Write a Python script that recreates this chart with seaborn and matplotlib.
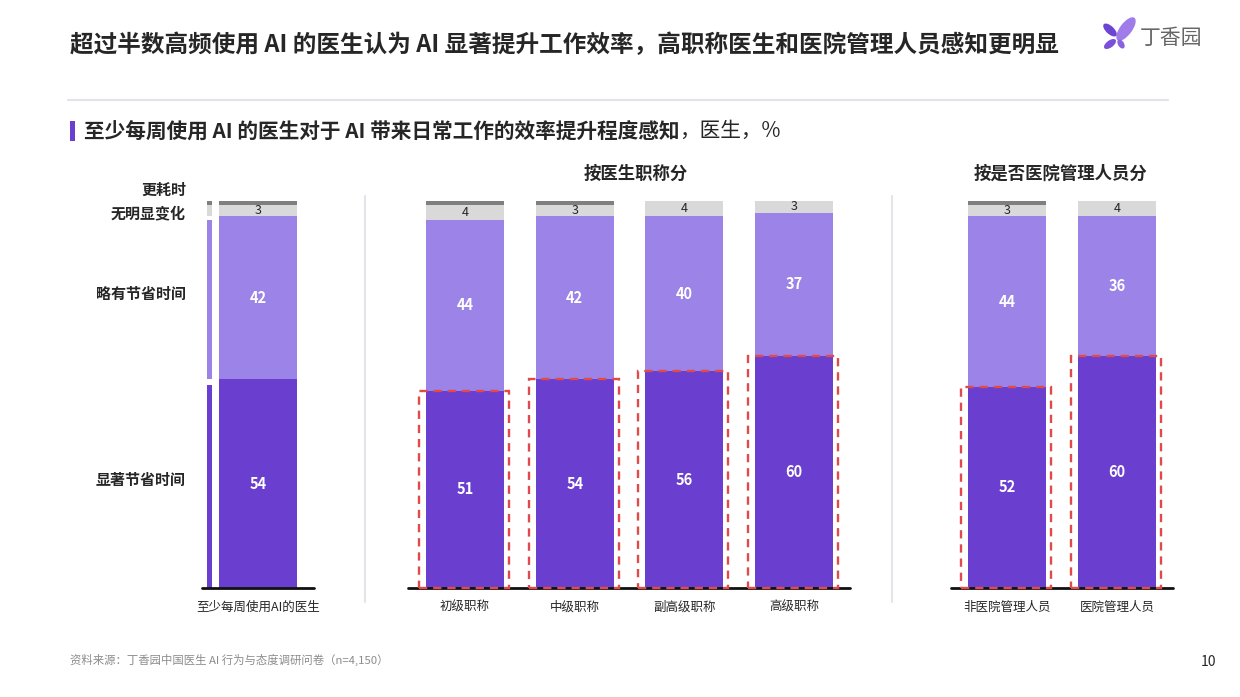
import matplotlib
matplotlib.use('Agg')
import matplotlib.pyplot as plt
import seaborn as sns
import numpy as np
from matplotlib.patches import Rectangle, Ellipse
from matplotlib.lines import Line2D

sns.set_style('white')
plt.rcParams['font.family'] = ['Noto Sans CJK SC', 'DejaVu Sans']

# ---------------- data ----------------
overall_cats = ['至少每周使用AI的医生']
overall_sig = [54]
overall_some = [42]
overall_none = [3]
overall_more = [1]

title_cats = ['初级职称', '中级职称', '副高级职称', '高级职称']
title_sig = [51, 54, 56, 60]
title_some = [44, 42, 40, 37]
title_none = [4, 3, 4, 3]
title_more = [1, 1, 0, 0]

mgmt_cats = ['非医院管理人员', '医院管理人员']
mgmt_sig = [52, 60]
mgmt_some = [44, 36]
mgmt_none = [3, 4]
mgmt_more = [1, 0]

seg_names = ['显著节省时间', '略有节省时间', '无明显变化', '更耗时']
group_titles = ['按医生职称分', '按是否医院管理人员分']

title = '超过半数高频使用 AI 的医生认为 AI 显著提升工作效率，高职称医生和医院管理人员感知更明显'
subtitle_bold = '至少每周使用 AI 的医生对于 AI 带来日常工作的效率提升程度感知'
subtitle_reg = '，医生，%'
source = '资料来源：丁香园中国医生 AI 行为与态度调研问卷（n=4,150）'
page_no = '10'

# ---------------- style ----------------
colors = ['#6A3FCF', '#9B83E8', '#D9D9D9', '#7F7F7F']
red = '#E04A4A'
txt = '#262626'
W, H = 1240, 697
BAR_W = 0.71

fig = plt.figure(figsize=(W / 100, H / 100), dpi=100)
bg = fig.add_axes([0, 0, 1, 1])
bg.set_xlim(0, W)
bg.set_ylim(H, 0)
bg.axis('off')


def px_axes(x0, x1, ytop=201, ybot=588):
    return fig.add_axes([x0 / W, (H - ybot) / H, (x1 - x0) / W, (ybot - ytop) / H])


def draw_panel(ax, cats, sig, some, none, more, xlim, boxes):
    layers = np.array([sig, some, none, more], dtype=float)
    cum = np.cumsum(layers, axis=0)
    for k in reversed(range(4)):
        sns.barplot(x=cats, y=cum[k], color=colors[k], width=BAR_W, saturation=1,
                    errorbar=None, linewidth=0, ax=ax, zorder=2)
    for i in range(len(cats)):
        ax.text(i, sig[i] / 2, f'{sig[i]}', ha='center', va='center', color='white',
                fontsize=10.5, fontweight='bold', zorder=5)
        ax.text(i, cum[0][i] + some[i] / 2, f'{some[i]}', ha='center', va='center',
                color='white', fontsize=10.5, fontweight='bold', zorder=5)
        ax.text(i, cum[1][i] + none[i] / 2, f'{none[i]}', ha='center', va='center',
                color=txt, fontsize=9, zorder=5)
        if boxes:
            ax.add_patch(Rectangle((i - BAR_W / 2 - 0.065, 0), BAR_W + 0.11, sig[i],
                                   fill=False, edgecolor=red, lw=1.7,
                                   ls=(0, (3.5, 2.5)), zorder=6, clip_on=False))
    ax.set_xlim(*xlim)
    ax.set_ylim(0, 100)
    ax.set_yticks([])
    ax.set_xlabel('')
    ax.set_ylabel('')
    ax.tick_params(axis='x', length=0, pad=9, labelsize=9, labelcolor=txt)
    sns.despine(ax=ax, left=True, bottom=True)
    ax.axhline(0, color='#111111', lw=2, zorder=5, clip_on=False)
    ax.patch.set_visible(False)


ax1 = px_axes(202, 314)
draw_panel(ax1, overall_cats, overall_sig, overall_some, overall_none, overall_more,
           (-0.51, 0.51), False)
# legend strip on the left of the overall bar
strip_layers = np.array([overall_sig[0], overall_some[0], overall_none[0], overall_more[0]], float)
strip_bottoms = np.concatenate([[0], np.cumsum(strip_layers)[:-1]])
strip_gaps = [1.5, 0.9, 0, 0]
ax1.bar([-0.44] * 4, strip_layers - np.array(strip_gaps), bottom=strip_bottoms,
        width=0.045, color=colors, linewidth=0, zorder=2)

ax2 = px_axes(408, 850)
draw_panel(ax2, title_cats, title_sig, title_some, title_none, title_more,
           (-0.52, 3.51), True)

ax3 = px_axes(951, 1173)
draw_panel(ax3, mgmt_cats, mgmt_sig, mgmt_some, mgmt_none, mgmt_more,
           (-0.51, 1.51), True)

# legend labels
for name, y in zip(seg_names, [480, 294, 213, 190]):
    bg.text(186, y, name, ha='right', va='center', fontsize=10.8, fontweight='bold', color=txt)

# group titles
bg.text(636, 174, group_titles[0], ha='center', va='center', fontsize=12.5,
        fontweight='bold', color=txt)
bg.text(1061, 174, group_titles[1], ha='center', va='center', fontsize=12.5,
        fontweight='bold', color=txt)

# separators
for x in [365, 892]:
    bg.add_line(Line2D([x, x], [196, 602], color='#E4E4EA', lw=1.5))

# title and rule
bg.text(70, 45, title, ha='left', va='center', fontsize=17, fontweight='bold', color=txt)
bg.add_line(Line2D([68, 1168], [100, 100], color='#E2E2E8', lw=1.5))

# subtitle
bg.add_patch(Rectangle((70, 121), 5, 20, color=colors[0], lw=0))
t1 = bg.text(84, 131, subtitle_bold, ha='left', va='center', fontsize=14.9,
             fontweight='bold', color=txt)
bg.annotate(subtitle_reg, xy=(1, 0.5), xycoords=t1, ha='left', va='center',
            fontsize=14.9, color=txt)

# footer
bg.text(70, 660, source, ha='left', va='center', fontsize=8.2, color='#8C8C8C')
bg.text(1208, 662, page_no, ha='center', va='center', fontsize=10, color=txt)

# logo
bg.add_patch(Ellipse((1126, 29), 28, 12, angle=-53, color='#A07CEB', lw=0))
bg.add_patch(Ellipse((1110, 30), 17, 8, angle=43, color='#6E45D2', lw=0))
bg.add_patch(Ellipse((1110, 44), 14, 7, angle=-36, color='#7A50D8', lw=0))
bg.add_patch(Ellipse((1121, 44), 10, 6, angle=58, color='#8A62E0', lw=0))
bg.text(1140, 38, '丁香园', ha='left', va='center', fontsize=15, color='#666666')

fig.savefig('out.png', dpi=100)
